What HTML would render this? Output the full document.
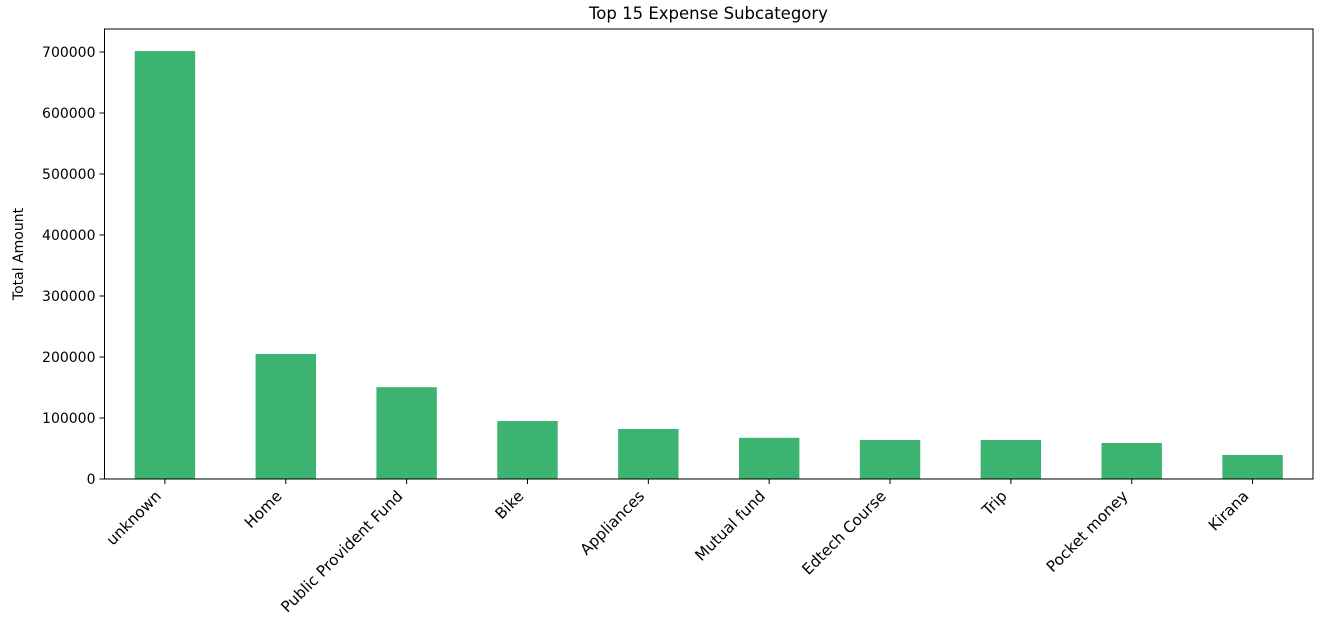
<!DOCTYPE html>
<html><head><meta charset="utf-8"><style>
body{margin:0;background:#fff;}
svg text{font-family:"DejaVu Sans","Liberation Sans",sans-serif;fill:#000;}
</style></head><body>
<svg id="chart" width="1327" height="619" xmlns="http://www.w3.org/2000/svg">
<text x="708.5" y="19" font-size="16.5" text-anchor="middle">Top 15 Expense Subcategory</text>
<text transform="translate(23,254) rotate(-90)" font-size="14" text-anchor="middle">Total Amount</text>
<g id="bars"></g><g id="axes"></g>
</svg>
<script>
const categories=["unknown","Home","Public Provident Fund","Bike","Appliances","Mutual fund","Edtech Course","Trip","Pocket money","Kirana"];
const values=[701500,205000,150500,95000,82000,67500,64000,63900,59000,39300];
const yTicks=[0,100000,200000,300000,400000,500000,600000,700000];
const L=104.5,R=1313,T=29,B=479;
const y=v=>B-(v/700000)*(B-52);
const step=(R-L)/categories.length;
const x=i=>L+step*(i+0.5);
const ns="http://www.w3.org/2000/svg";
const bars=document.getElementById('bars'),axes=document.getElementById('axes');
function mk(tag,attrs,parent){const e=document.createElementNS(ns,tag);for(const k in attrs)e.setAttribute(k,attrs[k]);parent.appendChild(e);return e;}
values.forEach((v,i)=>{
 const r=mk('rect',{x:x(i)-step*0.25,y:y(v),width:step*0.5,height:B-y(v),fill:'#3cb371'},bars);
 
 
 mk('line',{x1:x(i),x2:x(i),y1:B,y2:B+5,stroke:'#000','stroke-width':1},axes);
 const lb=mk('text',{transform:`translate(${x(i)-3},${B+18}) rotate(-45)`,'font-size':'15.3','text-anchor':'end'},axes);
 lb.textContent=categories[i];
 
 
});
yTicks.forEach(v=>{
 mk('line',{x1:L-5,x2:L,y1:y(v),y2:y(v),stroke:'#000','stroke-width':1},axes);
 const t=mk('text',{x:L-9,y:y(v)+5,'font-size':'14','text-anchor':'end'},axes);
 t.textContent=v;
 
 
});
const f=mk('rect',{x:L,y:T,width:R-L,height:B-T,fill:'none',stroke:'#000','stroke-width':1},axes);


</script>
</body></html>
